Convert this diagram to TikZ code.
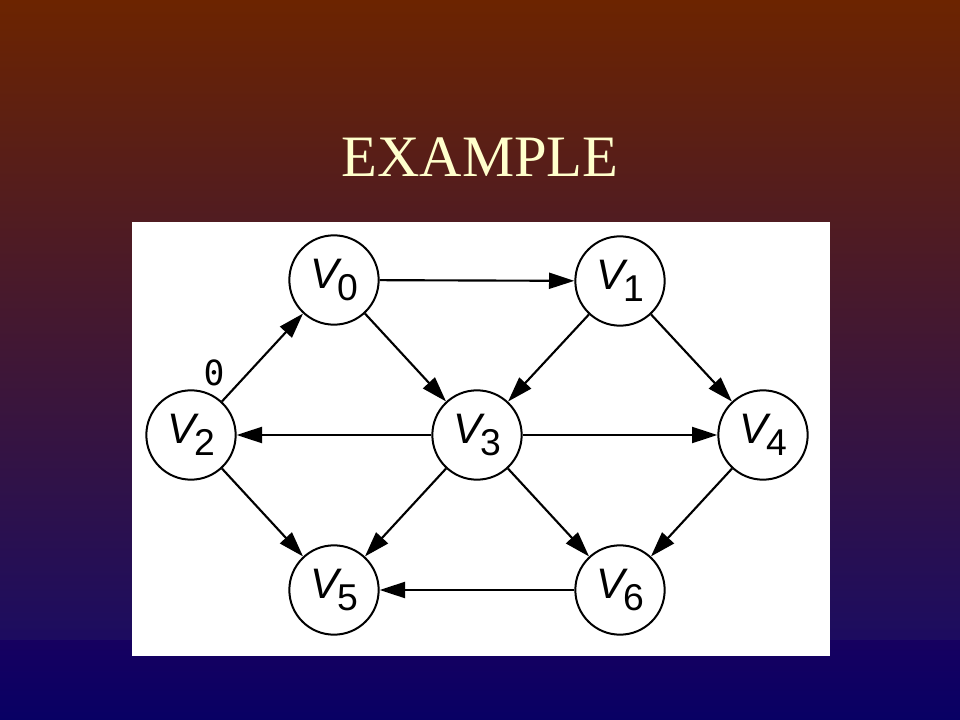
\documentclass[tikz,border=0pt]{standalone}
\usepackage{fontspec}
\setmainfont{Liberation Serif}
\newfontfamily\nodefont{Liberation Sans}
\newfontfamily\zerofont{DejaVu Sans Mono}
\usetikzlibrary{arrows.meta}

\definecolor{bgtop}{RGB}{108,36,0}
\definecolor{bgmid}{RGB}{92,28,64}
\definecolor{bglow}{RGB}{28,12,96}
\definecolor{bgfoot}{RGB}{22,0,96}
\definecolor{bgend}{RGB}{8,0,100}
\definecolor{titlecol}{RGB}{255,255,204}

\newcommand{\vname}[1]{{\nodefont\fontsize{32}{32}\selectfont{\itshape V}\kern-1pt\raisebox{-9pt}{\fontsize{28}{28}\selectfont #1}}}

\begin{document}
\begin{tikzpicture}[x=0.75pt, y=-0.75pt,
	vert/.style={draw, circle, line width=1.5pt, minimum size=67pt, inner sep=0pt, fill=white},
	edge/.style={line width=1.6pt, -{Triangle[length=19pt,width=12pt]}},
	zero/.style={font=\zerofont\fontsize{26}{26}\selectfont}]
	\useasboundingbox (0,0) rectangle (960,720);
	\shade[top color=bgtop, middle color=bgmid, bottom color=bglow] (0,0) rectangle (960,641);
	\shade[top color=bgfoot, bottom color=bgend] (0,640) rectangle (960,720);
	\node[anchor=base, text=titlecol, font=\fontsize{44}{44}\selectfont] (title) at (480,177) {EXAMPLE};
	\fill[white] (132,222) rectangle (830,656);

	\node[vert] (v0) at (334,280) {\vname{0}};
	\node[vert] (v1) at (620,281) {\vname{1}};
	\node[vert] (v2) at (191,435) {\vname{2}};
	\node[vert] (v3) at (477,435) {\vname{3}};
	\node[vert] (v4) at (763,435) {\vname{4}};
	\node[vert] (v5) at (334,590) {\vname{5}};
	\node[vert] (v6) at (620,590) {\vname{6}};
	\node[zero] (w0) at (214,373) {0};

	\draw[edge] (v2) -- (v0);
	\draw[edge] (v0) -- (v1);
	\draw[edge] (v0) -- (v3);
	\draw[edge] (v1) -- (v3);
	\draw[edge] (v1) -- (v4);
	\draw[edge] (v3) -- (v2);
	\draw[edge] (v3) -- (v4);
	\draw[edge] (v2) -- (v5);
	\draw[edge] (v3) -- (v5);
	\draw[edge] (v3) -- (v6);
	\draw[edge] (v4) -- (v6);
	\draw[edge] (v6) -- (v5);
\end{tikzpicture}
\end{document}
